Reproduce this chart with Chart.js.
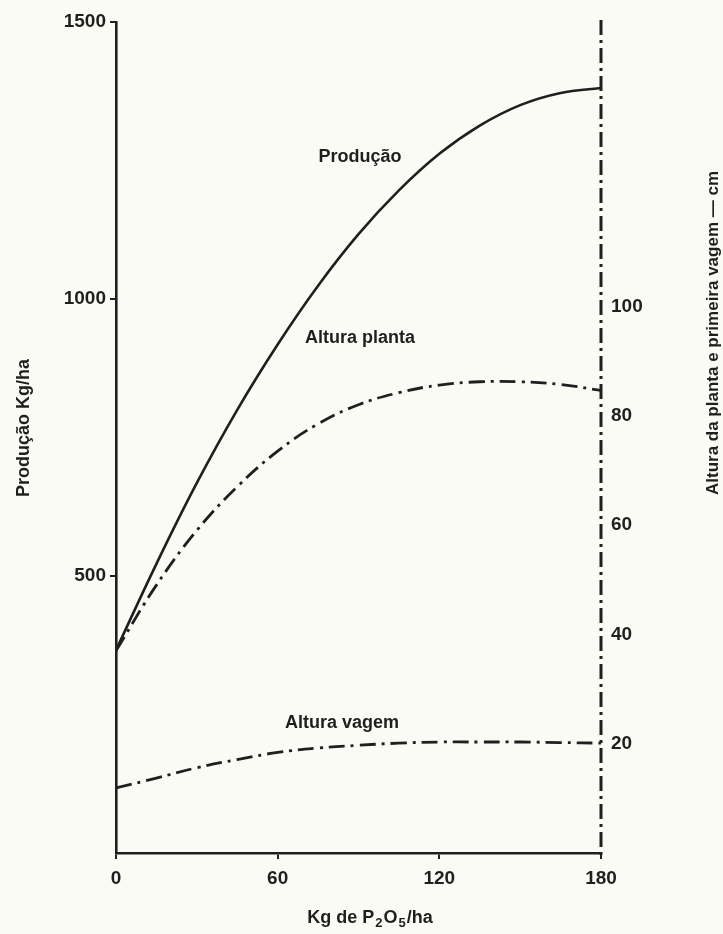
<!DOCTYPE html>
<html>
<head>
<meta charset="utf-8">
<script src="https://cdn.jsdelivr.net/npm/chart.js"></script>
<style>
  html, body { margin: 0; padding: 0; background: #fbfbf6; }
  #wrap { width: 723px; height: 934px; }
</style>
</head>
<body>
<div id="wrap"><canvas id="chart" width="723" height="934"></canvas></div>
<script>
// doses of P2O5 (kg/ha)
var doses = [0, 15, 30, 45, 60, 75, 90, 105, 120, 135, 150, 165, 180];
// yield, kg/ha (left axis)
var producao = [366, 522, 668, 800, 918, 1024, 1117, 1196, 1262, 1313, 1350, 1372, 1381];
// heights, cm (right axis)
var alturaPlanta = [37, 49, 59, 67, 73.5, 78.5, 82, 84.2, 85.6, 86.2, 86.2, 85.7, 84.6];
var alturaVagem = [11.9, 13.7, 15.6, 17.1, 18.4, 19.2, 19.7, 20.1, 20.3, 20.3, 20.3, 20.2, 20.1];

var xTicks = [0, 60, 120, 180];
var leftTicks = [500, 1000, 1500];
var rightTicks = [20, 40, 60, 80, 100];

var ink = '#1f1f1f';
var tickFont = { family: 'Liberation Sans, Arial, sans-serif', size: 19, weight: 'bold' };

function pts(arr) {
    return doses.map(function (d, i) { return { x: d, y: arr[i] }; });
}
function plain(v) { return String(v); }

// paper background, dash-dot right axis and free text labels
var paper = {
    id: 'paper',
    beforeDraw: function (chart) {
        var ctx = chart.ctx;
        ctx.save();
        ctx.fillStyle = '#fbfbf6';
        ctx.fillRect(0, 0, chart.width, chart.height);
        ctx.restore();
    },
    afterDraw: function (chart) {
        var ctx = chart.ctx;
        var a = chart.chartArea;
        ctx.save();
        ctx.strokeStyle = ink;
        ctx.lineWidth = 3;
        ctx.setLineDash([15, 5, 3, 5]);
        ctx.beginPath();
        ctx.moveTo(a.right, a.top - 2);
        ctx.lineTo(a.right, a.bottom + 6);
        ctx.stroke();
        ctx.setLineDash([]);

        ctx.fillStyle = ink;
        ctx.textAlign = 'center';
        ctx.textBaseline = 'middle';
        ctx.font = 'bold 18px Liberation Sans, Arial, sans-serif';
        ctx.fillText('Produção', 360, 157);
        ctx.fillText('Altura planta', 360, 338);
        ctx.fillText('Altura vagem', 342, 723);

        // left title
        ctx.save();
        ctx.translate(24, 428);
        ctx.rotate(-Math.PI / 2);
        ctx.fillText('Produção Kg/ha', 0, 0);
        ctx.restore();

        // right title
        ctx.save();
        ctx.translate(713, 333);
        ctx.rotate(-Math.PI / 2);
        ctx.font = 'bold 17px Liberation Sans, Arial, sans-serif';
        ctx.fillText('Altura da planta e primeira vagem — cm', 0, 0);
        ctx.restore();

        // x title with subscripts
        var big = 'bold 18px Liberation Sans, Arial, sans-serif';
        var small = 'bold 13px Liberation Sans, Arial, sans-serif';
        var parts = [['Kg de P', big, 0], ['2', small, 5], ['O', big, 0], ['5', small, 5], ['/ha', big, 0]];
        var total = 0;
        parts.forEach(function (p) { ctx.font = p[1]; total += ctx.measureText(p[0]).width + (p[1] === small ? 2 : 0); });
        var x = 370 - total / 2;
        ctx.textAlign = 'left';
        parts.forEach(function (p) {
            ctx.font = p[1];
            if (p[1] === small) x += 1;
            ctx.fillText(p[0], x, 918 + p[2]);
            x += ctx.measureText(p[0]).width + (p[1] === small ? 1 : 0);
        });
        ctx.restore();
    }
};

new Chart(document.getElementById('chart').getContext('2d'), {
    type: 'line',
    data: {
        datasets: [{
            label: 'Produção',
            data: pts(producao),
            yAxisID: 'y',
            borderColor: ink,
            borderWidth: 2.6,
            pointRadius: 0,
            tension: 0.4
        }, {
            label: 'Altura planta',
            data: pts(alturaPlanta),
            yAxisID: 'y2',
            borderColor: ink,
            borderWidth: 2.8,
            borderDash: [16, 6, 3, 6],
            pointRadius: 0,
            tension: 0.4
        }, {
            label: 'Altura vagem',
            data: pts(alturaVagem),
            yAxisID: 'y2',
            borderColor: ink,
            borderWidth: 2.8,
            borderDash: [16, 6, 3, 6],
            pointRadius: 0,
            tension: 0.4
        }]
    },
    options: {
        responsive: false,
        animation: false,
        layout: { padding: { top: 22, left: 0, right: 0, bottom: 0 } },
        plugins: { legend: { display: false }, tooltip: { enabled: false } },
        scales: {
            x: {
                type: 'linear',
                min: 0,
                max: 180,
                afterFit: function (s) { s.height = 81; },
                afterBuildTicks: function (s) { s.ticks = xTicks.map(function (v) { return { value: v }; }); },
                ticks: { color: ink, font: tickFont, padding: 8, maxRotation: 0, callback: plain },
                grid: { drawOnChartArea: false, tickLength: 6, color: ink, lineWidth: 2 },
                border: { color: ink, width: 2.6 }
            },
            y: {
                position: 'left',
                min: 0,
                max: 1500,
                afterFit: function (s) { s.width = 116; },
                afterBuildTicks: function (s) { s.ticks = leftTicks.map(function (v) { return { value: v }; }); },
                ticks: { color: ink, font: tickFont, padding: 4, callback: plain },
                grid: { drawOnChartArea: false, tickLength: 6, color: ink, lineWidth: 2 },
                border: { color: ink, width: 2.6 }
            },
            y2: {
                position: 'right',
                min: 0,
                max: 152,
                afterFit: function (s) { s.width = 122; },
                afterBuildTicks: function (s) { s.ticks = rightTicks.map(function (v) { return { value: v }; }); },
                ticks: { color: ink, font: tickFont, padding: 10, callback: plain },
                grid: { drawOnChartArea: false, drawTicks: false },
                border: { display: false }
            }
        }
    },
    plugins: [paper]
});
</script>
</body>
</html>
